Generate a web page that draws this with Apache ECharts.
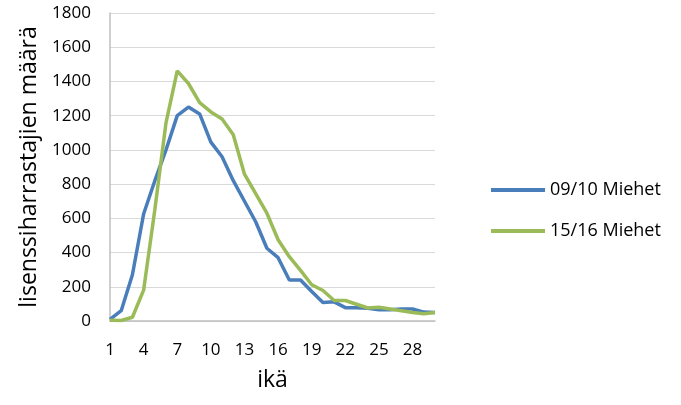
<!DOCTYPE html>
<html><head><meta charset="utf-8">
<script src="https://cdn.jsdelivr.net/npm/echarts@6/dist/echarts.min.js"></script>
<style>html,body{margin:0;padding:0;background:#fff}#c{width:681px;height:405px}</style>
</head><body><div id="c"></div>
<script>
var ages = [1,2,3,4,5,6,7,8,9,10,11,12,13,14,15,16,17,18,19,20,21,22,23,24,25,26,27,28,29,30];
var miehet0910 = [10,60,270,625,820,1000,1200,1250,1210,1045,960,820,700,580,425,370,240,240,172,108,112,78,78,74,66,66,70,70,52,50];
var miehet1516 = [5,3,22,180,650,1160,1462,1388,1276,1222,1180,1088,858,745,630,475,376,296,212,178,120,120,98,76,80,70,60,50,42,50];
var yTicks = {min:0, max:1800, interval:200};
var font = '"Open Sans", "Noto Sans", sans-serif';
var chart = echarts.init(document.getElementById('c'));
chart.setOption({
  animation:false,
  backgroundColor:'#fff',
  grid:{left:110, right:246, top:13, bottom:84},
  legend:{orient:'vertical', left:486, top:176, itemWidth:54, itemHeight:4, itemGap:23,
    icon:'rect', textStyle:{fontFamily:font, fontSize:18, color:'#000'},
    data:['09/10 Miehet','15/16 Miehet']},
  xAxis:{type:'category', data:ages, boundaryGap:false,
    name:'ikä', nameLocation:'middle', nameGap:48,
    nameTextStyle:{fontFamily:font, fontSize:23, color:'#000'},
    axisLine:{lineStyle:{color:'#bfbfbf', width:1.5}},
    axisTick:{show:false},
    axisLabel:{interval:2, margin:21, fontFamily:font, fontSize:17, color:'#000'}},
  yAxis:{type:'value', min:yTicks.min, max:yTicks.max, interval:yTicks.interval,
    name:'lisenssiharrastajien määrä', nameLocation:'middle', nameGap:69,
    nameTextStyle:{fontFamily:font, fontSize:23, color:'#000'},
    axisLine:{show:true, lineStyle:{color:'#bfbfbf', width:1.5}},
    axisLabel:{margin:19, fontFamily:font, fontSize:17, color:'#000', formatter:function(v){return String(v);}},
    splitLine:{lineStyle:{color:'#d9d9d9', width:1.2}}},
  series:[
    {name:'09/10 Miehet', type:'line', data:miehet0910, showSymbol:false, symbol:'none',
      lineStyle:{color:'#4a7ebb', width:3.5}, itemStyle:{color:'#4a7ebb'}},
    {name:'15/16 Miehet', type:'line', data:miehet1516, showSymbol:false, symbol:'none',
      lineStyle:{color:'#9bbb59', width:3.5}, itemStyle:{color:'#9bbb59'}}
  ]
});
</script></body></html>
